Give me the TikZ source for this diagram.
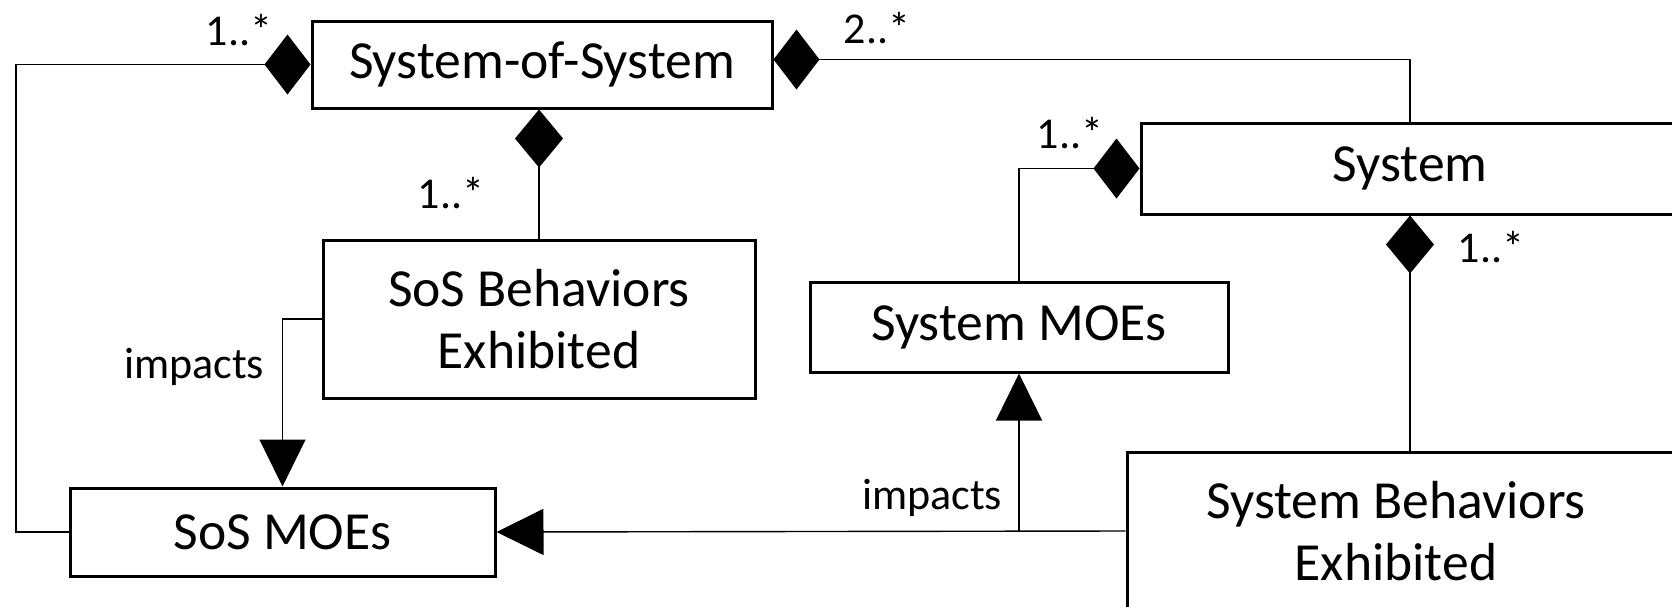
\documentclass[tikz,border=0pt]{standalone}
\usepackage{fontspec}
\setmainfont{Carlito}
\usetikzlibrary{arrows.meta}
\tikzset{
  cls/.style={draw=black, line width=1.5pt, fill=white, inner sep=0pt, align=center,
    font=\fontsize{26.8}{31}\selectfont},
  lbl/.style={inner sep=0pt, font=\fontsize{22}{26}\selectfont},
  conn/.style={line width=0.7pt},
  hdia/.style={conn, {Diamond[length=23pt,width=30pt]}-},
  vdia/.style={conn, {Diamond[length=29pt,width=24pt]}-},
  tri/.style={conn, -{Triangle[length=23.5pt,width=23pt]}}
}
\begin{document}
\begin{tikzpicture}[x=0.5pt,y=-0.5pt]
\useasboundingbox (0,0) rectangle (1672,606);
\fill[white] (0,0) rectangle (1672,606);
\clip (0,0) rectangle (1672,606);
% classes
\node[cls, minimum width=230pt, minimum height=43.5pt] (sos) at (542,64.5) {\raisebox{-1.5pt}{System-of-System}};
\node[cls, minimum width=216pt, minimum height=79pt] (sosb) at (539,319) {SoS Behaviors\\Exhibited};
\node[cls, minimum width=212.5pt, minimum height=44pt] (moes) at (282.5,532) {\raisebox{-1pt}{SoS MOEs}};
\node[cls, minimum width=269pt, minimum height=45.5pt] (sys) at (1410,168.5) {\raisebox{-1.5pt}{System}};
\node[cls, minimum width=209pt, minimum height=45pt] (sysm) at (1019,327) {\raisebox{-1.5pt}{System MOEs}};
\node[cls, minimum width=276pt, minimum height=79pt] (sysb) at (1403,531) {System Behaviors\hspace*{7pt}\\Exhibited\hspace*{7pt}};
% helper coordinates
\coordinate (lx) at (16,0);
\coordinate (jn) at (sysm.south |- sysb.west);
% connectors
\draw[hdia] (sos.west) -- (sos.west -| lx) |- (moes.west);
\draw[hdia] ([yshift=2.5pt]sos.east) -| (sys.north);
\draw[vdia] (sosb.north |- sos.south) -- (sosb.north);
\draw[tri] (sosb.west) -| (moes.north);
\draw[vdia] (sys.south) -- (sys.south |- sysb.north);
\draw[hdia] (sys.west) -| (sysm.north);
\draw[tri] (sysb.west) -- (moes.east);
\draw[tri] (jn) -- (sysm.south);
% labels
\node[lbl] (m1) at (239,30) {1..*};
\node[lbl] (m2) at (451,193) {1..*};
\node[lbl] (m3) at (877,28) {2..*};
\node[lbl] (m4) at (1070,133) {1..*};
\node[lbl] (m5) at (1491,247) {1..*};
\node[lbl] (i1) at (194,367) {impacts};
\node[lbl] (i2) at (932,498) {impacts};
\end{tikzpicture}
\end{document}
